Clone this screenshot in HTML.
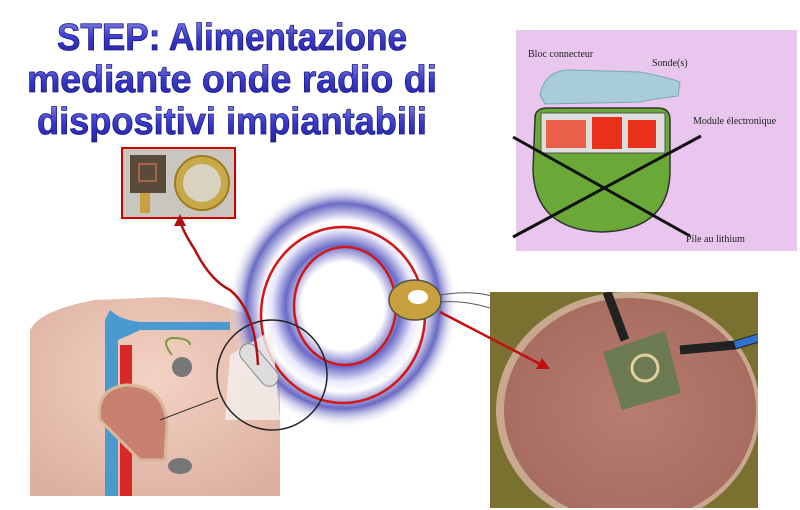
<!DOCTYPE html>
<html><head><meta charset="utf-8"><style>
html,body{margin:0;padding:0;background:#fff;width:800px;height:510px;overflow:hidden}
svg{display:block}
</style></head><body>
<svg width="800" height="510" viewBox="0 0 800 510" xmlns="http://www.w3.org/2000/svg">
<defs>
<radialGradient id="glow" cx="0.5" cy="0.5" r="0.5">
<stop offset="0" stop-color="#fff"/>
<stop offset="0.36" stop-color="#fff"/>
<stop offset="0.5" stop-color="#6a6ac8"/>
<stop offset="0.62" stop-color="#e8e8fb"/>
<stop offset="0.7" stop-color="#fff"/>
<stop offset="0.84" stop-color="#6a6ac4"/>
<stop offset="1" stop-color="#fff" stop-opacity="0"/>
</radialGradient>
<linearGradient id="tg" x1="0" y1="0" x2="0" y2="1">
<stop offset="0" stop-color="#8a8ae8"/><stop offset="0.5" stop-color="#3a3acc"/><stop offset="1" stop-color="#2020a0"/>
</linearGradient>
<radialGradient id="meat" cx="0.5" cy="0.5" r="0.6">
<stop offset="0" stop-color="#b87c70"/><stop offset="1" stop-color="#a56a5e"/>
</radialGradient>
<radialGradient id="skin" cx="0.5" cy="0.4" r="0.7">
<stop offset="0" stop-color="#f3d2c4"/><stop offset="1" stop-color="#dcb0a0"/>
</radialGradient>
<clipPath id="pc"><rect x="490" y="292" width="268" height="216"/></clipPath>
</defs>
<!-- title -->
<g font-family="Liberation Sans, sans-serif" font-weight="bold" font-size="38" text-anchor="middle" fill="url(#tg)" stroke="#1a1a80" stroke-width="0.8">
<text x="232" y="50" textLength="350" lengthAdjust="spacingAndGlyphs">STEP: Alimentazione</text>
<text x="232" y="92" textLength="410" lengthAdjust="spacingAndGlyphs">mediante onde radio di</text>
<text x="232" y="134" textLength="390" lengthAdjust="spacingAndGlyphs">dispositivi impiantabili</text>
</g>
<!-- small photo -->
<rect x="122" y="148" width="113" height="70" fill="#c9c6c0" stroke="#c00" stroke-width="2"/>
<rect x="130" y="155" width="36" height="38" fill="#5a4a3a"/>
<rect x="139" y="164" width="17" height="17" fill="none" stroke="#c0704a" stroke-width="1.5"/>
<rect x="140" y="193" width="10" height="20" fill="#c8a040"/>
<circle cx="202" cy="183" r="27" fill="#c8a848" stroke="#a07a20" stroke-width="2"/>
<circle cx="202" cy="183" r="19" fill="#d8d2c0"/>
<!-- pacemaker box -->
<rect x="516" y="30" width="281" height="221" fill="#e8c6ee"/>
<path d="M540 95 Q545 70 570 70 L640 72 Q670 78 680 82 L678 96 Q660 98 640 102 L545 104 Z" fill="#a8ccd8" stroke="#7aa" />
<path d="M535 118 Q535 108 548 108 L658 108 Q670 108 670 120 L670 170 Q670 230 602 232 Q535 230 533 170 Z" fill="#6aa838" stroke="#333" stroke-width="1.5"/>
<rect x="541" y="113" width="124" height="40" fill="#ddd" stroke="#555"/>
<rect x="592" y="117" width="30" height="32" fill="#e8301a"/>
<rect x="628" y="120" width="28" height="28" fill="#e8301a"/>
<rect x="546" y="120" width="40" height="28" fill="#e8604a"/>
<line x1="513" y1="137" x2="690" y2="236" stroke="#111" stroke-width="3"/>
<line x1="513" y1="237" x2="701" y2="136" stroke="#111" stroke-width="3"/>
<g font-family="Liberation Serif, serif" font-size="10" fill="#222">
<text x="528" y="57">Bloc connecteur</text>
<text x="652" y="66">Sonde(s)</text>
<text x="693" y="124">Module électronique</text>
<text x="686" y="242">Pile au lithium</text>
</g>
<!-- torso -->
<path d="M30 330 Q40 310 95 300 L165 297 L200 300 Q260 315 268 330 L280 340 L280 496 L30 496 Z" fill="url(#skin)"/>
<path d="M105 320 L105 496 L118 496 L118 340 Q130 335 140 330 L230 330 L230 322 L140 322 Q120 320 110 310 Z" fill="#4a9ad0"/>
<rect x="120" y="345" width="12" height="151" fill="#d82828"/>
<path d="M100 420 Q95 390 125 385 Q165 385 167 425 L165 460 L140 460 Z" fill="#c88070" stroke="#d8b898" stroke-width="3"/>
<circle cx="182" cy="367" r="10" fill="#777"/>
<path d="M172 355 Q160 340 172 338 Q190 338 190 345" fill="none" stroke="#7a9a40" stroke-width="2"/>
<ellipse cx="180" cy="466" rx="12" ry="8" fill="#777"/>
<!-- rings -->
<ellipse cx="343" cy="306" rx="115" ry="122" fill="url(#glow)"/>
<ellipse cx="343" cy="315" rx="82" ry="88" fill="none" stroke="#d01818" stroke-width="2.5"/>
<ellipse cx="345" cy="306" rx="51" ry="59" fill="none" stroke="#d01818" stroke-width="2.5"/>
<!-- zoom circle -->
<path d="M230 355 L272 330 L280 420 L225 420 Z" fill="#f4f0ee" opacity="0.8"/>
<circle cx="272" cy="375" r="55" fill="none" stroke="#222" stroke-width="1.5"/>
<rect x="250" y="340" width="18" height="50" rx="9" fill="#ddd" stroke="#888" transform="rotate(-40 259 365)"/>
<line x1="218" y1="398" x2="160" y2="420" stroke="#333"/>
<!-- red connector to small photo -->
<path d="M258 365 Q255 310 230 290 Q210 280 195 250 Q182 230 180 220" fill="none" stroke="#b01010" stroke-width="2.5"/>
<path d="M180 214 L174 226 L186 226 Z" fill="#b01010"/>
<!-- coil -->
<ellipse cx="415" cy="300" rx="26" ry="20" fill="#c8a040" stroke="#554" stroke-width="1.5"/>
<ellipse cx="418" cy="297" rx="10" ry="7" fill="#fff"/>
<path d="M440 302 Q465 300 490 308 M440 295 Q470 290 492 296" fill="none" stroke="#555"/>
<!-- meat photo -->
<g clip-path="url(#pc)">
<rect x="490" y="292" width="268" height="216" fill="#7a7030"/>
<ellipse cx="628" cy="410" rx="132" ry="118" fill="#c9a890"/>
<ellipse cx="630" cy="410" rx="126" ry="112" fill="url(#meat)"/>
<polygon points="603,352 665,331 681,393 622,410" fill="#6b7a50"/>
<circle cx="645" cy="368" r="13" fill="none" stroke="#e0d0a0" stroke-width="3"/>
<path d="M607 292 L625 340" stroke="#222" stroke-width="9"/>
<path d="M680 350 L735 345 L758 338" stroke="#222" stroke-width="9"/>
<path d="M735 345 L758 338" stroke="#3070d0" stroke-width="7"/>
</g>
<!-- red arrow to meat -->
<line x1="440" y1="312" x2="542" y2="365" stroke="#c01010" stroke-width="2.5"/>
<path d="M550 369 L536 369 L542 358 Z" fill="#c01010"/>
</svg>
</body></html>
